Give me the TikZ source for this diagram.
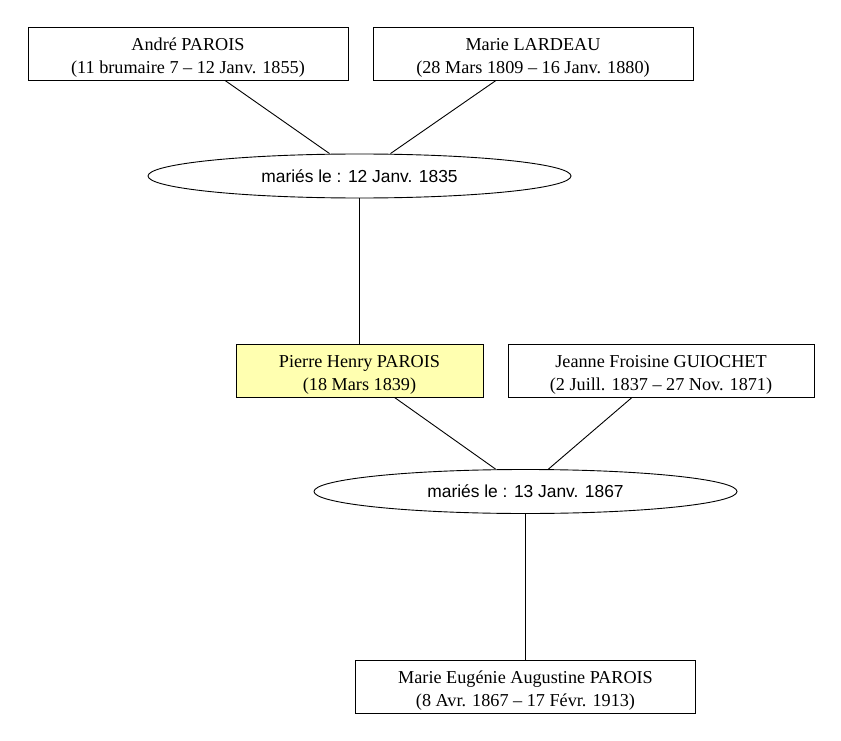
\documentclass[tikz,border=0pt]{standalone}
\usepackage{fontspec}
\setmainfont{Liberation Serif}
\newfontfamily\unionfont{Liberation Sans}
\usetikzlibrary{shapes.geometric,positioning,calc}
\definecolor{selfyellow}{RGB}{255,255,176}
\tikzset{
	person/.style={draw, line width=0.9pt, rectangle, minimum height=53pt, text height=41pt, text depth=1.5pt, align=center, font=\fontsize{18.2}{23}\selectfont},
	union/.style={draw, line width=0.9pt, ellipse, minimum width=423pt, minimum height=44pt, inner sep=0pt, font=\unionfont\fontsize{17.4}{20}\selectfont},
	link/.style={line width=0.9pt}
}
\begin{document}
\begin{tikzpicture}[x=1pt, y=1pt]
			\useasboundingbox (0,0) rectangle (841,-741);
			\node(pa) [person, minimum width=320pt] at (188,-53.5) {André PAROIS\\(11 brumaire 7 -- 12 Janv. 1855)};
			\node(ml) [person, minimum width=320pt, right of=pa, node distance=345pt] {Marie LARDEAU\\(28 Mars 1809 -- 16 Janv. 1880)};
			\node(m1) [union] at (359.5,-176) {mariés le : 12 Janv. 1835};
			\node(ph) [person, minimum width=247pt, fill=selfyellow, below of=m1, node distance=194.5pt] {Pierre Henry PAROIS\\(18 Mars 1839)};
			\node(jg) [person, minimum width=306pt, right of=ph, node distance=301.5pt] {Jeanne Froisine GUIOCHET\\(2 Juill. 1837 -- 27 Nov. 1871)};
			\node(m2) [union] at (525.5,-491.5) {mariés le : 13 Janv. 1867};
			\node(me) [person, minimum width=340pt, below of=m2, node distance=195.5pt] {Marie Eugénie Augustine PAROIS\\(8 Avr. 1867 -- 17 Févr. 1913)};

			\coordinate(k1) at ($(m1.south)!0.5!(ph.north)$);
			\coordinate(k2) at ($(m2.south)!0.5!(me.north)$);

			\draw[link]([xshift=37pt]pa.south) -- ([xshift=-30pt]m1.north);
			\draw[link]([xshift=-37pt]ml.south) -- ([xshift=31pt]m1.north);
			\draw[link](m1.south) -- (k1);
			\draw[link](k1) -- (ph.north);
			\draw[link]([xshift=35pt]ph.south) -- ([xshift=-30pt]m2.north);
			\draw[link]([xshift=-29pt]jg.south) -- ([xshift=23pt]m2.north);
			\draw[link](m2.south) -- (k2);
			\draw[link](k2) -- (me.north);
		\end{tikzpicture}
\end{document}
